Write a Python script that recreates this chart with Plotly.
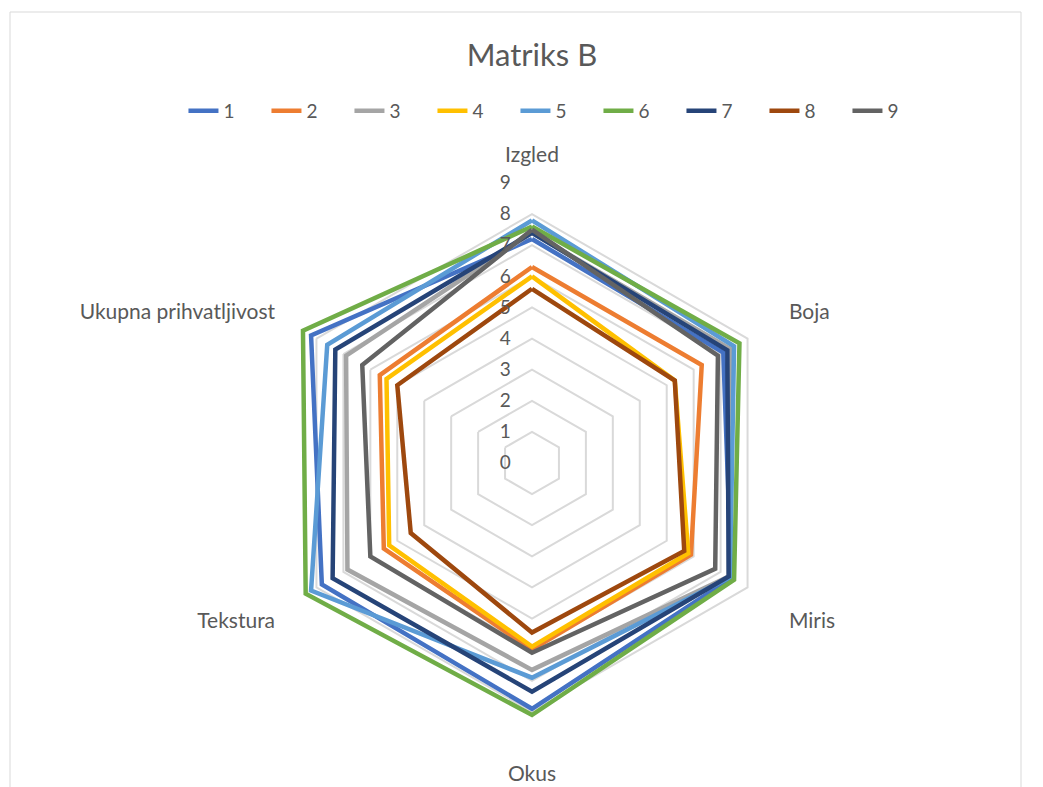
import plotly.graph_objects as go

# Sensory attributes (radar axes), clockwise from the top
categories = ["Izgled", "Boja", "Miris", "Okus", "Tekstura", "Ukupna prihvatljivost"]

# Mean scores per sample
s1 = [7.2, 7.1, 7.4, 7.9, 7.8, 8.2]
s2 = [6.3, 6.3, 5.9, 6.0, 5.5, 5.65]
s3 = [7.4, 7.35, 7.3, 6.65, 6.85, 6.9]
s4 = [6.0, 5.3, 5.8, 5.9, 5.3, 5.4]
s5 = [7.8, 7.5, 7.35, 6.9, 8.2, 7.6]
s6 = [7.6, 7.7, 7.5, 8.1, 8.4, 8.5]
s7 = [7.4, 7.25, 7.3, 7.35, 7.4, 7.3]
s8 = [5.6, 5.3, 5.65, 5.45, 4.5, 5.0]
s9 = [7.5, 6.9, 6.8, 6.1, 6.0, 6.3]

series_names = ["1", "2", "3", "4", "5", "6", "7", "8", "9"]
series_values = [s1, s2, s3, s4, s5, s6, s7, s8, s9]
colors = ["#4472C4", "#ED7D31", "#A5A5A5", "#FFC000", "#5B9BD5",
          "#70AD47", "#264478", "#9E480E", "#636363"]

radial_ticks = list(range(0, 10))

W, H = 1043, 787
cx, cy, R = 532, 463, 280

fig = go.Figure()
for name, vals, col in zip(series_names, series_values, colors):
    fig.add_trace(go.Scatterpolar(
        r=vals + vals[:1],
        theta=categories + categories[:1],
        mode="lines",
        name=name,
        line=dict(color=col, width=4.5),
        hoverinfo="r+theta+name",
    ))

fig.update_layout(
    width=W, height=H,
    margin=dict(l=0, r=0, t=0, b=0),
    paper_bgcolor="white",
    plot_bgcolor="white",
    font=dict(family="Lato, Open Sans, sans-serif", color="#595959", size=18),
    title=dict(text="Matriks B", x=0.51, xanchor="center", y=1 - 55 / H, yanchor="middle",
               font=dict(size=31, color="#595959")),
    legend=dict(orientation="h", x=0.534, xanchor="center", y=1 - 111 / H, yanchor="middle",
                entrywidth=38, entrywidthmode="pixels",
                font=dict(size=19, color="#595959")),
    polar=dict(
        domain=dict(x=[(cx - R) / W, (cx + R) / W], y=[(H - cy - R) / H, (H - cy + R) / H]),
        bgcolor="white",
        gridshape="linear",
        angularaxis=dict(
            rotation=90, direction="clockwise",
            showgrid=False, showline=False,
            ticks="outside", ticklen=12, tickcolor="rgba(0,0,0,0)",
            tickfont=dict(size=21, color="#595959"),
        ),
        radialaxis=dict(
            range=[0, 9], tickvals=radial_ticks, ticktext=[str(t) for t in radial_ticks],
            angle=90, tickangle=90, side="counterclockwise",
            showline=False,
            ticks="outside", ticklen=14, tickcolor="rgba(0,0,0,0)",
            gridcolor="#D9D9D9", gridwidth=2,
            tickfont=dict(size=19, color="#595959"),
        ),
    ),
    shapes=[dict(type="rect", xref="paper", yref="paper",
                 x0=10 / W, x1=1021 / W, y0=-0.05, y1=1 - 12 / H,
                 line=dict(color="#D9D9D9", width=1), fillcolor="rgba(0,0,0,0)", layer="below")],
)

fig.write_html("out.html")
